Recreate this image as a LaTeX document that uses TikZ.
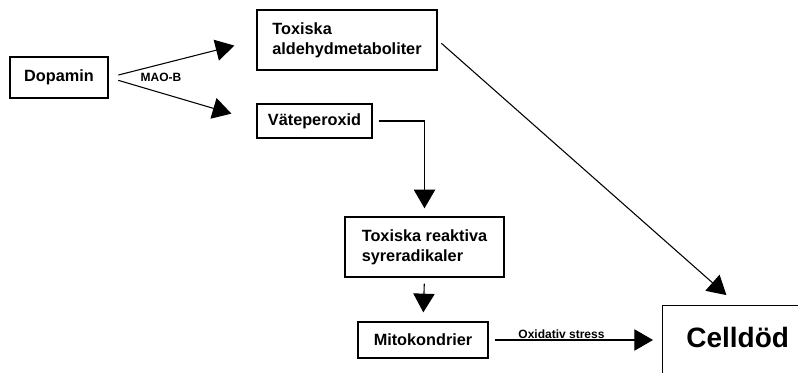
\documentclass[tikz,border=0pt]{standalone}
\usepackage{fontspec}
\setmainfont{Liberation Sans}
\usetikzlibrary{arrows.meta}

\begin{document}
\begin{tikzpicture}[x=0.75pt, y=-0.75pt,
  box/.style = {draw, line width=1pt, inner sep=0pt, align=left,
                font=\fontsize{12.2pt}{15pt}\selectfont\bfseries},
  arr/.style = {line width=0.8pt, -{Triangle[length=14pt, width=16pt]}},
  lbl/.style = {font=\fontsize{9pt}{10pt}\selectfont\bfseries, inner sep=1pt}]
 \useasboundingbox (0,0) rectangle (798,373);
 \clip (0,0) rectangle (798,373);

 \node[box, minimum width=73.5pt, minimum height=30.75pt] (dop) at (59,77.5) {Dopamin};
 \node[box, minimum width=135pt, minimum height=45pt] (tox) at (347,40) {Toxiska\\aldehydmetaboliter};
 \node[box, minimum width=86.25pt, minimum height=25.5pt] (vat) at (314.5,121) {Väteperoxid};
 \node[box, minimum width=119.25pt, minimum height=45pt] (ros) at (424.5,247) {Toxiska reaktiva\\syreradikaler};
 \node[box, minimum width=97.5pt, minimum height=27pt] (mito) at (423,340) {Mitokondrier};
 % cell box runs off the page to the right and bottom
 \node[box, anchor=north west, minimum width=112.5pt, text height=31.5pt, text depth=37.5pt,
       align=center, font=\fontsize{21pt}{24pt}\selectfont\bfseries] (cell) at (662,305) {Celldöd};

 \draw[arr, shorten <=7.5pt, shorten >=17pt] (dop.east) -- (tox.west);
 \draw[arr, shorten <=7.5pt, shorten >=19.5pt] (dop.east) -- (vat.west);
 \node[lbl] (mao) at (161,77) {MAO-B};

 \draw[arr, shorten <=4.5pt, shorten >=6pt] (vat.east) -| (ros.north);
 \draw[arr, shorten <=4.5pt, shorten >=6.75pt] (ros.south) -- (mito.north);
 \draw[arr, shorten <=4.5pt, shorten >=6.75pt] (mito.east) -- (mito.east -| cell.west)
   node[lbl, pos=0.42, above] (ox) {Oxidativ stress};
 \draw[arr, shorten <=3.75pt, shorten >=11.25pt] (tox.east) -- (cell.north);
\end{tikzpicture}
\end{document}
